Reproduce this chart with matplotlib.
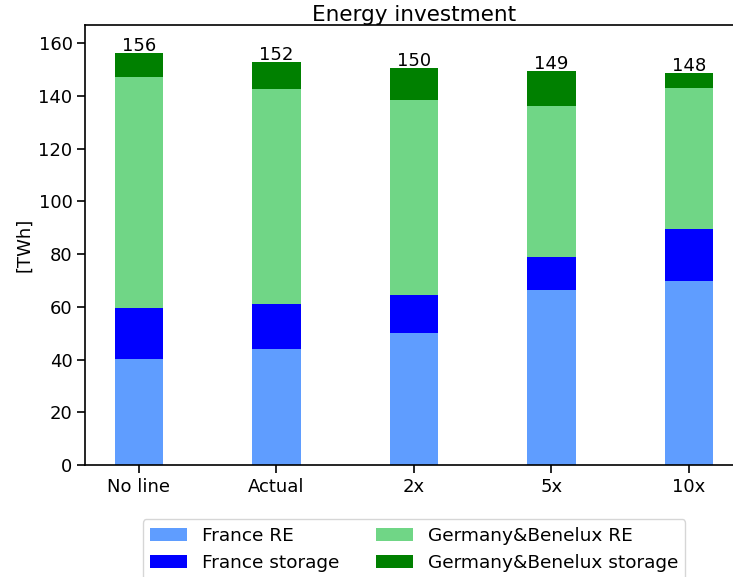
import numpy as np
import matplotlib.pyplot as plt

cases = ['No line', 'Actual', '2x', '5x', '10x']
fr_re = [40.3, 44.1, 50.2, 66.5, 69.9]
fr_storage = [19.4, 17.1, 14.4, 12.6, 19.8]
de_re = [87.4, 81.3, 73.7, 57.0, 53.2]
de_storage = [9.1, 10.3, 12.2, 13.3, 5.7]

x = np.arange(len(cases))
w = 0.35

plt.rcParams['axes.linewidth'] = 1.2
plt.rcParams['xtick.major.size'] = 5.5
plt.rcParams['ytick.major.size'] = 5.5
plt.rcParams['xtick.major.width'] = 1.2
plt.rcParams['ytick.major.width'] = 1.2

fig = plt.figure(figsize=(7.33, 5.77), dpi=100)
ax = fig.add_axes([0.116, 0.194, 0.8975, 0.763])

b1 = np.array(fr_re)
b2 = b1 + np.array(fr_storage)
b3 = b2 + np.array(de_re)
tot = b3 + np.array(de_storage)

ax.bar(x, fr_re, w, color='#5f9dff', label='France RE')
ax.bar(x, fr_storage, w, bottom=b1, color='#0000ff', label='France storage')
ax.bar(x, de_re, w, bottom=b2, color='#70d686', label='Germany&Benelux RE')
ax.bar(x, de_storage, w, bottom=b3, color='#008000', label='Germany&Benelux storage')

for xi, t in zip(x, tot):
    ax.text(xi, t - 0.5, str(int(t)), ha='center', va='bottom', fontsize=13)

ax.set_xticks(x)
ax.set_xticklabels(cases, fontsize=13)
ax.tick_params(axis='y', labelsize=13)
ax.set_ylim(0, 167)
ax.set_ylabel('[TWh]', fontsize=13)
ax.set_title('Energy investment', fontsize=15.5, pad=3)
ax.legend(loc='upper center', bbox_to_anchor=(0.5, -0.102), ncol=2, fontsize=13.3,
          handlelength=2.0)

fig.savefig('out.png', dpi=100)
